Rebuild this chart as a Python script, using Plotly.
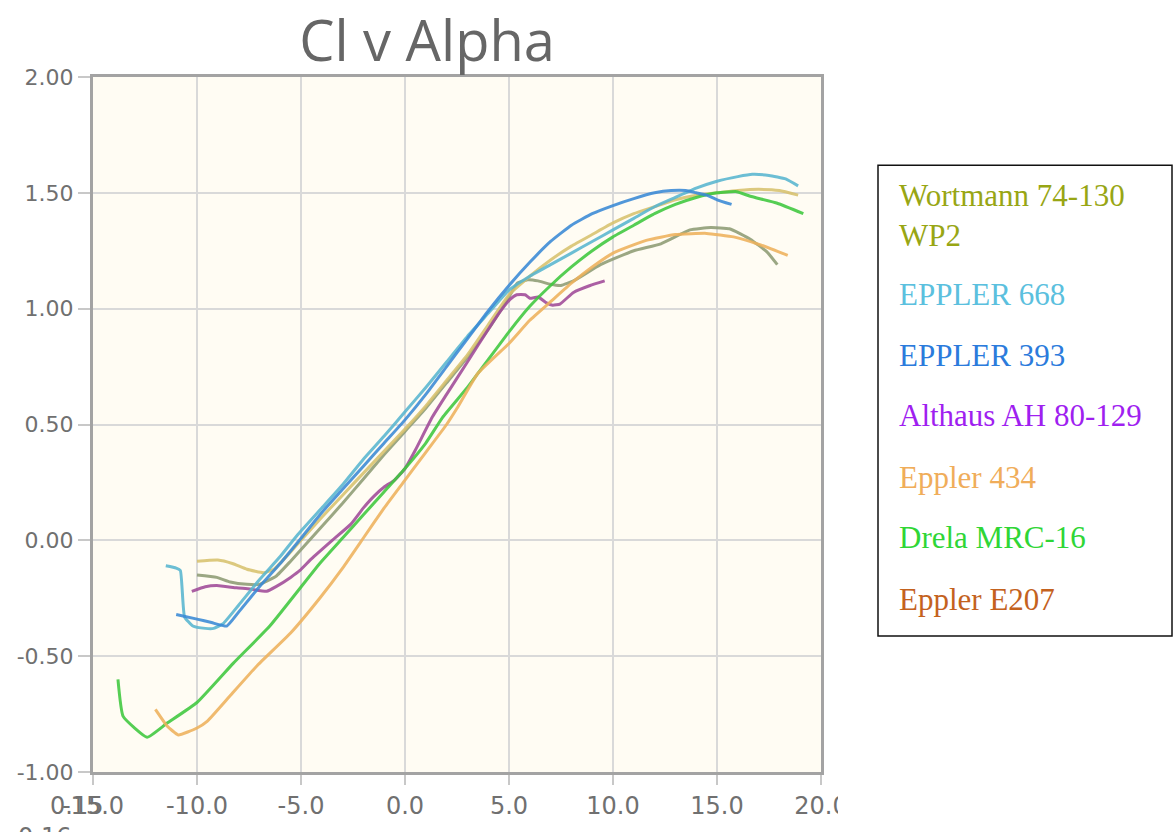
import plotly.graph_objects as go

W, H = 1176, 832
L, R, T, B = 93, 821, 77, 777  # plot area in pixels

# ---------------- data ----------------
names = ["Wortmann 74-130 WP2", "EPPLER 668", "EPPLER 393", "Althaus AH 80-129",
         "Eppler 434", "Drela MRC-16", "Eppler E207"]

wort_a = [-10, -9.0, -8.3, -7.6, -6.8, -6.3, -5.5, -5, -4, -3, -2, -1, 0, 1, 2, 3, 4, 5, 6, 7, 8, 9,
          10, 11, 12, 13, 14, 15, 16, 17, 18, 18.9]
wort_cl = [-0.09, -0.085, -0.10, -0.125, -0.14, -0.125, -0.05, 0.0, 0.10, 0.195, 0.29, 0.385, 0.48,
           0.58, 0.69, 0.80, 0.93, 1.06, 1.14, 1.21, 1.27, 1.32, 1.37, 1.41, 1.44, 1.47, 1.49, 1.50,
           1.51, 1.515, 1.51, 1.49]

e668_a = [-11.5, -11.0, -10.8, -10.6, -10.2, -9.6, -9.2, -8.75, -8, -7, -6, -5.2, -4, -3, -2, -1, 0,
          1, 2, 3, 4, 5, 6, 7, 8, 9, 10, 11, 12, 13, 14, 15, 16, 16.7, 17.5, 18.3, 18.9]
e668_cl = [-0.11, -0.12, -0.13, -0.33, -0.37, -0.38, -0.38, -0.36, -0.28, -0.17, -0.07, 0.02, 0.14,
           0.24, 0.35, 0.45, 0.555, 0.66, 0.77, 0.88, 0.98, 1.08, 1.14, 1.19, 1.24, 1.29, 1.34, 1.39,
           1.44, 1.48, 1.52, 1.55, 1.57, 1.58, 1.575, 1.56, 1.53]

e393_a = [-11.0, -10.0, -9.3, -8.57, -8, -7, -6, -4.9, -4, -3, -2, -1, 0, 1, 2, 3, 4, 5, 6, 7, 8, 9,
          10, 11, 12, 12.8, 13.5, 14, 14.5, 15, 15.7]
e393_cl = [-0.32, -0.34, -0.355, -0.37, -0.31, -0.20, -0.10, 0.02, 0.12, 0.22, 0.32, 0.42, 0.52,
           0.63, 0.75, 0.87, 0.99, 1.10, 1.20, 1.29, 1.36, 1.41, 1.445, 1.475, 1.50, 1.51, 1.51,
           1.50, 1.49, 1.47, 1.45]

alth_a = [-10.25, -9.6, -9.05, -8.1, -7.45, -6.65, -6.2, -5.5, -5.05, -4.5, -3.5, -2.6, -2, -1.5, -1,
          -0.5, 0, 0.5, 1.3, 2, 3, 4, 4.6, 5.05, 5.37, 5.77, 6.0, 6.4, 6.8, 7.1, 7.45, 8.1, 8.9, 9.6]
alth_cl = [-0.22, -0.20, -0.195, -0.205, -0.21, -0.22, -0.20, -0.16, -0.13, -0.08, 0.0, 0.07, 0.14,
           0.19, 0.23, 0.26, 0.31, 0.39, 0.53, 0.63, 0.77, 0.91, 0.99, 1.04, 1.06, 1.06, 1.045,
           1.05, 1.025, 1.015, 1.02, 1.07, 1.10, 1.12]

e434_a = [-12.0, -11.45, -10.9, -10.0, -9.5, -8.4, -7.1, -5.5, -4.1, -3, -2, -1, 0, 1, 2, 2.5, 3.5, 5,
          6, 7, 8, 9, 10, 11.6, 13, 14.5, 15.8, 17.1, 18.4]
e434_cl = [-0.73, -0.80, -0.84, -0.81, -0.78, -0.67, -0.54, -0.40, -0.25, -0.12, 0.01, 0.14, 0.26,
           0.38, 0.50, 0.57, 0.72, 0.85, 0.95, 1.03, 1.11, 1.18, 1.24, 1.295, 1.32, 1.325, 1.31,
           1.275, 1.23]

drela_a = [-13.8, -13.55, -12.4, -11.45, -10, -8.25, -6.5, -4.1, -3, -2, -1, 0, 1, 1.8, 3, 4, 5, 6, 7,
           8, 9, 10, 11, 12, 13, 14, 15, 15.95, 16.6, 17.9, 19.15]
drela_cl = [-0.60, -0.76, -0.85, -0.79, -0.70, -0.53, -0.37, -0.10, 0.01, 0.11, 0.21, 0.31, 0.42,
            0.53, 0.66, 0.78, 0.90, 1.01, 1.10, 1.18, 1.25, 1.31, 1.36, 1.41, 1.45, 1.48, 1.50,
            1.505, 1.485, 1.455, 1.41]

e207_a = [-10, -9.05, -8.4, -7.6, -7.0, -6.2, -5.5, -4, -3, -2, -1, 0, 1, 2, 3, 4, 5, 5.4, 5.9, 6.4,
          7, 7.5, 8.1, 9.4, 11, 12.3, 13.7, 14.7, 15.6, 16.6, 17.4, 17.9]
e207_cl = [-0.15, -0.16, -0.18, -0.19, -0.19, -0.155, -0.09, 0.06, 0.16, 0.265, 0.37, 0.47, 0.57,
           0.68, 0.79, 0.91, 1.05, 1.11, 1.125, 1.12, 1.105, 1.10, 1.12, 1.19, 1.25, 1.28, 1.34,
           1.35, 1.345, 1.30, 1.245, 1.19]

x_ticks = [-15, -10, -5, 0, 5, 10, 15, 20]
y_ticks = [-1.0, -0.5, 0.0, 0.5, 1.0, 1.5, 2.0]

series = [
    (wort_a, wort_cl),
    (e668_a, e668_cl),
    (e393_a, e393_cl),
    (alth_a, alth_cl),
    (e434_a, e434_cl),
    (drela_a, drela_cl),
    (e207_a, e207_cl),
]

# ---------------- styles ----------------
line_colors = ["#d8c26e", "#58b6d0", "#3a8ad6", "#a04a98", "#eeb25c", "#3ec83e", "#8e9c74"]
legend_colors = ["#98a614", "#5bc0de", "#2b7bdc", "#9f1ff0", "#f0ad5a", "#2fd636", "#c4621e"]
draw_order = [6, 0, 3, 5, 4, 1, 2]


def px_x(p):
    return (p - L) / (R - L)


def px_y(p):
    return (B - p) / (B - T)


fig = go.Figure()
for i in draw_order:
    a, cl = series[i]
    fig.add_trace(go.Scatter(x=a, y=cl, mode="lines", name=names[i],
                             line=dict(color=line_colors[i], width=3, shape="spline", smoothing=0.4),
                             opacity=0.88, showlegend=False))

tick_font_y = dict(family="DejaVu Sans", size=22, color="#707070")
tick_font_x = dict(family="DejaVu Sans", size=24, color="#707070")

fig.update_xaxes(range=[-15, 20], tickvals=x_ticks, ticktext=[f"{v:.1f}" for v in x_ticks],
                 showgrid=True, gridcolor="#d9d9d9", gridwidth=2,
                 showline=True, linecolor="#a3a3a3", linewidth=3, mirror=True,
                 ticks="outside", ticklen=10, tickwidth=2, tickcolor="#c8c8c8",
                 tickfont=tick_font_x, zeroline=False, fixedrange=True)
fig.update_yaxes(range=[-1, 2], tickvals=y_ticks, ticktext=[f"{v:.2f}" for v in y_ticks],
                 showgrid=True, gridcolor="#d9d9d9", gridwidth=2,
                 showline=True, linecolor="#a3a3a3", linewidth=3, mirror=True,
                 ticks="outside", ticklen=12, tickwidth=2, tickcolor="#c8c8c8",
                 tickfont=tick_font_y, zeroline=False, fixedrange=True)

shapes = [
    # legend box
    dict(type="rect", xref="paper", yref="paper",
         x0=px_x(878), x1=px_x(1172), y0=px_y(640), y1=px_y(166),
         line=dict(color="#111111", width=1.5), fillcolor="rgba(0,0,0,0)", layer="above"),
    # clip of the last x tick label (as in the reference)
    dict(type="rect", xref="paper", yref="paper",
         x0=px_x(838), x1=px_x(876), y0=px_y(832), y1=px_y(790),
         line=dict(width=0), fillcolor="white", layer="above"),
]

annotations = []
leg_font = "Liberation Serif"
leg_y = [216.5, 296, 357, 418, 480, 541, 603]
leg_text = ["Wortmann 74-130<br>WP2", "EPPLER 668", "EPPLER 393", "Althaus AH 80-129",
            "Eppler 434", "Drela MRC-16", "Eppler E207"]
for i in range(7):
    annotations.append(dict(text=leg_text[i], xref="paper", yref="paper",
                            x=px_x(897), y=px_y(leg_y[i]), xanchor="left", yanchor="middle",
                            align="left", showarrow=False,
                            font=dict(family=leg_font, size=31, color=legend_colors[i])))

# stray overlapping labels seen at the bottom-left of the reference
annotations.append(dict(text="0.15", xref="paper", yref="paper", x=px_x(76), y=px_y(811),
                        xanchor="center", yanchor="middle", showarrow=False,
                        font=tick_font_x))
annotations.append(dict(text="0.16", xref="paper", yref="paper", x=px_x(44), y=px_y(842),
                        xanchor="center", yanchor="middle", showarrow=False,
                        font=tick_font_x))

fig.update_layout(
    width=W, height=H,
    margin=dict(l=L, r=W - R, t=T, b=H - B, pad=0),
    paper_bgcolor="white", plot_bgcolor="#fffcf3",
    title=dict(text="Cl v Alpha", x=px_x(427), xref="paper", xanchor="center",
               y=1 - 41 / H, yanchor="middle",
               font=dict(family="Open Sans", size=56, color="#666666")),
    shapes=shapes, annotations=annotations,
    showlegend=False,
)

fig.write_html("out.html")
